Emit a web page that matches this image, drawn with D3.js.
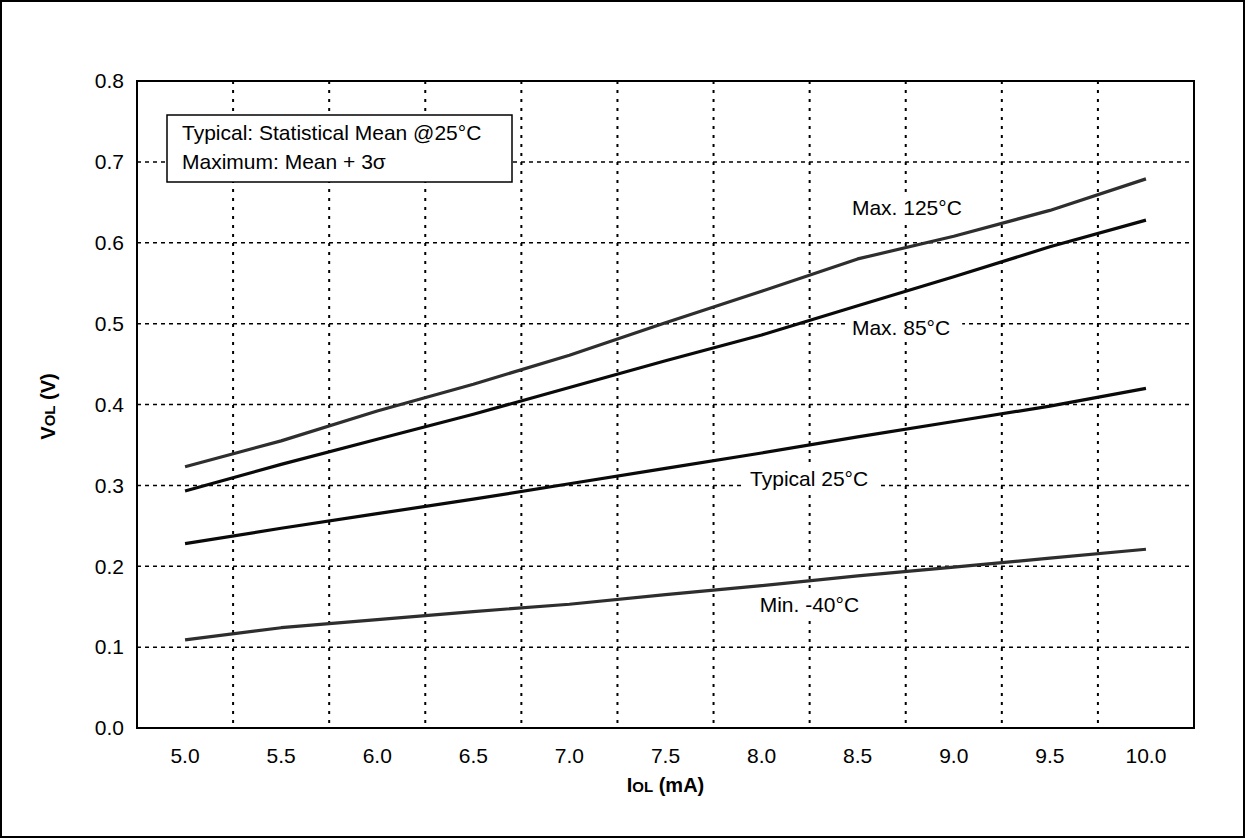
<!DOCTYPE html>
<html>
<head>
<meta charset="utf-8">
<script src="https://cdn.jsdelivr.net/npm/d3@7"></script>
<style>
  body { margin: 0; background: #fff; }
  text { font-family: Arial, "Liberation Sans", sans-serif; fill: #000; }
</style>
</head>
<body>
<div id="chart"></div>
<script>
// IOL categories (mA)
var iolLabels = ["5.0", "5.5", "6.0", "6.5", "7.0", "7.5", "8.0", "8.5", "9.0", "9.5", "10.0"];
var yTicks = [0.0, 0.1, 0.2, 0.3, 0.4, 0.5, 0.6, 0.7, 0.8];

// VOL (V) per series
var max125 = [0.323, 0.355, 0.392, 0.425, 0.461, 0.501, 0.540, 0.580, 0.608, 0.640, 0.679];
var max85  = [0.293, 0.326, 0.357, 0.388, 0.421, 0.454, 0.486, 0.522, 0.558, 0.595, 0.628];
var typ25  = [0.228, 0.247, 0.265, 0.283, 0.302, 0.321, 0.340, 0.360, 0.379, 0.398, 0.420];
var min40  = [0.109, 0.124, 0.134, 0.144, 0.153, 0.165, 0.176, 0.188, 0.199, 0.210, 0.221];

var seriesNames = ["Max. 125°C", "Max. 85°C", "Typical 25°C", "Min. -40°C"];
// label anchor (IOL value, VOL value) for each series name
var labelX = [8.47, 8.47, 7.94, 7.99];
var labelY = [0.634, 0.486, 0.299, 0.1434];

var W = 1246, H = 839;
var margin = {top: 81, right: 52, bottom: 111, left: 137},
    width = W - margin.left - margin.right,
    height = H - margin.top - margin.bottom;

var svg = d3.select("#chart").append("svg")
    .attr("width", W)
    .attr("height", H);

// outer frame
svg.append("rect")
    .attr("x", 1).attr("y", 1)
    .attr("width", W - 3).attr("height", H - 3)
    .attr("fill", "none").attr("stroke", "#000").attr("stroke-width", 2);

var g = svg.append("g")
    .attr("transform", "translate(" + margin.left + "," + margin.top + ")");

var x = d3.scaleBand().domain(iolLabels).range([0, width]).paddingInner(0).paddingOuter(0);
var bw = x.bandwidth();
var xNum = d3.scaleLinear().domain([5, 10]).range([bw / 2, width - bw / 2]);
var y = d3.scaleLinear().domain([0, 0.8]).range([height, 0]);

// grid
g.append("g").selectAll("line")
    .data(yTicks.filter(function(d) { return d > 0 && d < 0.8; }))
    .enter().append("line")
    .attr("x1", 0).attr("x2", width)
    .attr("y1", function(d) { return y(d); })
    .attr("y2", function(d) { return y(d); })
    .attr("stroke", "#000").attr("stroke-width", 1.5)
    .attr("stroke-dasharray", "4,4");

g.append("g").selectAll("line")
    .data(iolLabels.slice(1))
    .enter().append("line")
    .attr("x1", function(d) { return x(d); })
    .attr("x2", function(d) { return x(d); })
    .attr("y1", 0).attr("y2", height)
    .attr("stroke", "#000").attr("stroke-width", 2)
    .attr("stroke-dasharray", "3,6");

// tick labels
g.append("g").selectAll("text")
    .data(yTicks)
    .enter().append("text")
    .attr("x", -13)
    .attr("y", function(d) { return y(d); })
    .attr("dy", "0.35em")
    .attr("text-anchor", "end")
    .style("font-size", "21px")
    .text(function(d) { return d.toFixed(1); });

g.append("g").selectAll("text")
    .data(iolLabels)
    .enter().append("text")
    .attr("x", function(d) { return x(d) + bw / 2; })
    .attr("y", height + 35)
    .attr("text-anchor", "middle")
    .style("font-size", "21px")
    .text(function(d) { return d; });

// lines
var line = d3.line()
    .x(function(d, i) { return x(iolLabels[i]) + bw / 2; })
    .y(function(d) { return y(d); });

var allSeries = [max125, max85, typ25, min40];
var colors = ["#2e2e2e", "#0a0a0a", "#0a0a0a", "#2e2e2e"];

allSeries.forEach(function(s, k) {
    g.append("path")
        .attr("d", line(s))
        .attr("fill", "none")
        .attr("stroke", colors[k])
        .attr("stroke-width", 3.2)
        .attr("stroke-linejoin", "round");
});

// series labels with white boxes
seriesNames.forEach(function(name, k) {
    var lg = g.append("g");
    var t = lg.append("text")
        .attr("x", xNum(labelX[k]))
        .attr("y", y(labelY[k]))
        .style("font-size", "21px")
        .text(name);
    var bb = t.node().getBBox();
    lg.insert("rect", "text")
        .attr("x", bb.x - 6).attr("y", bb.y - 2)
        .attr("width", bb.width + 18).attr("height", bb.height + 4)
        .attr("fill", "#fff");
});

// note box
var note = g.append("g").attr("transform", "translate(30,34)");
note.append("rect")
    .attr("width", 345).attr("height", 67)
    .attr("fill", "#fff").attr("stroke", "#000").attr("stroke-width", 1.5);
note.append("text")
    .attr("x", 15).attr("y", 25)
    .style("font-size", "21px")
    .text("Typical: Statistical Mean @25°C");
var t2 = note.append("text")
    .attr("x", 15).attr("y", 54)
    .style("font-size", "21px");
t2.append("tspan").text("Maximum: Mean + 3");
t2.append("tspan").text("σ");

// plot frame
g.append("rect")
    .attr("width", width).attr("height", height)
    .attr("fill", "none").attr("stroke", "#000").attr("stroke-width", 2);

// axis titles
var xt = g.append("text")
    .attr("x", width / 2)
    .attr("y", height + 64)
    .attr("text-anchor", "middle")
    .style("font-size", "20px")
    .style("font-weight", "bold");
xt.append("tspan").text("I");
xt.append("tspan").style("font-size", "15px").text("OL");
xt.append("tspan").text(" (mA)");

var yt = g.append("text")
    .attr("transform", "translate(-82," + (height / 2 + 2) + ") rotate(-90)")
    .attr("text-anchor", "middle")
    .style("font-size", "20px")
    .style("font-weight", "bold");
yt.append("tspan").text("V");
yt.append("tspan").style("font-size", "15px").text("OL");
yt.append("tspan").text(" (V)");
</script>
</body>
</html>
